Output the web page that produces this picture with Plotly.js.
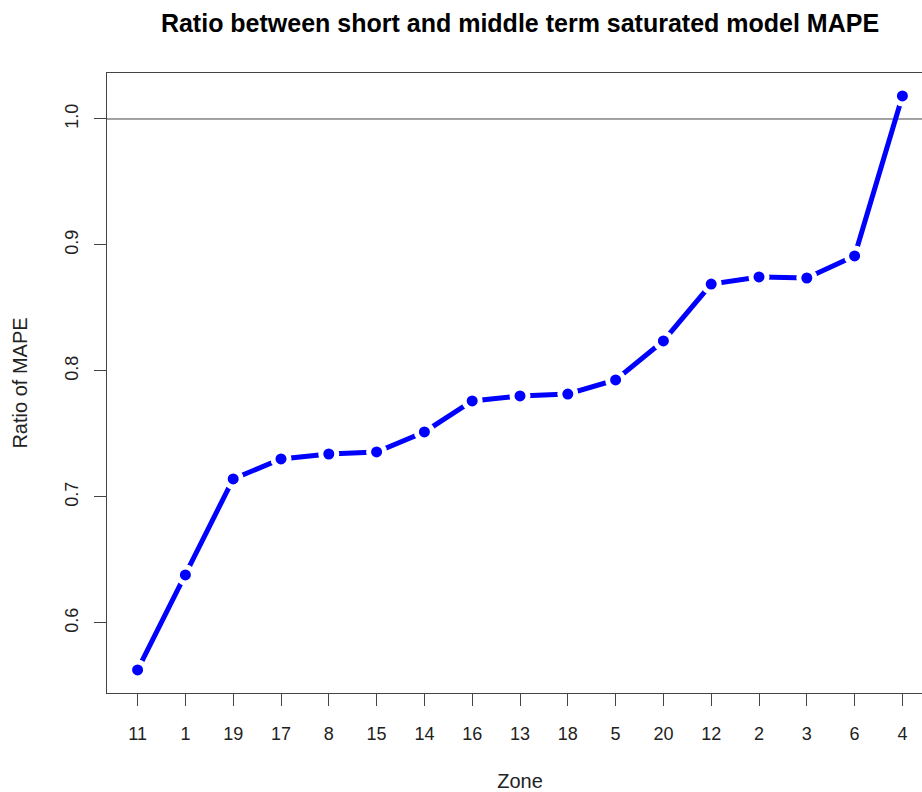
<!DOCTYPE html>
<html>
<head>
<meta charset="utf-8">
<script src="https://cdn.plot.ly/plotly-3.0.1.min.js"></script>
<style>
html, body { margin: 0; padding: 0; overflow: hidden; background: #fff; }
#chart { width: 943px; height: 792px; }
</style>
</head>
<body>
<div id="chart"></div>
<script>
// Data
const zones = ["11", "1", "19", "17", "8", "15", "14", "16", "13", "18", "5", "20", "12", "2", "3", "6", "4"];
const mapeRatio = [0.5627, 0.6381, 0.7143, 0.7302, 0.7341, 0.7357, 0.7516, 0.7762, 0.7802, 0.7817, 0.7929, 0.8238, 0.8690, 0.8746, 0.8738, 0.8913, 1.0183];
const yTicks = [0.6, 0.7, 0.8, 0.9, 1.0];
const referenceLevel = 1.0;

const trace = {
  x: zones,
  y: mapeRatio,
  type: 'scatter',
  mode: 'lines+markers',
  line: { color: '#0000ff', width: 5 },
  marker: { color: '#0000ff', size: 16, line: { color: '#ffffff', width: 5 } },
  cliponaxis: false,
  hoverinfo: 'x+y'
};

const fontFam = '"Liberation Sans", Arial, Helvetica, sans-serif';

const layout = {
  width: 943,
  height: 792,
  margin: { l: 107, r: 10, t: 73, b: 99 },
  paper_bgcolor: '#ffffff',
  plot_bgcolor: '#ffffff',
  showlegend: false,
  font: { family: fontFam, size: 18, color: '#222' },
  title: {
    text: '<b>Ratio between short and middle term saturated model MAPE</b>',
    font: { family: fontFam, size: 25, color: '#000' },
    x: 0.5, xref: 'paper', xanchor: 'center',
    y: 1 - 23 / 792, yref: 'container', yanchor: 'middle'
  },
  xaxis: {
    type: 'category',
    range: [-0.64, zones.length - 1 + 0.64],
    showgrid: false, zeroline: false,
    showline: true, mirror: true, linecolor: '#444', linewidth: 1,
    ticks: 'outside', ticklen: 12, tickcolor: '#444', tickwidth: 1,
    ticklabelstandoff: 12,
    tickfont: { family: fontFam, size: 18, color: '#222' },
    title: { text: 'Zone', font: { family: fontFam, size: 20, color: '#222' }, standoff: 31 }
  },
  yaxis: {
    range: [0.5444, 1.0365],
    tickvals: yTicks,
    ticktext: yTicks.map(v => v.toFixed(1)),
    tickangle: -90,
    showgrid: false, zeroline: false,
    showline: true, mirror: true, linecolor: '#444', linewidth: 1,
    ticks: 'outside', ticklen: 12, tickcolor: '#444', tickwidth: 1,
    ticklabelstandoff: 9,
    tickfont: { family: fontFam, size: 18, color: '#222' },
    title: { text: 'Ratio of MAPE', font: { family: fontFam, size: 20, color: '#222' }, standoff: 28 }
  },
  shapes: [{
    type: 'line', xref: 'paper', x0: 0, x1: 1, yref: 'y', y0: referenceLevel, y1: referenceLevel,
    line: { color: '#444', width: 1 }, layer: 'below'
  }]
};

Plotly.newPlot('chart', [trace], layout, { displayModeBar: false, staticPlot: true });
</script>
</body>
</html>
